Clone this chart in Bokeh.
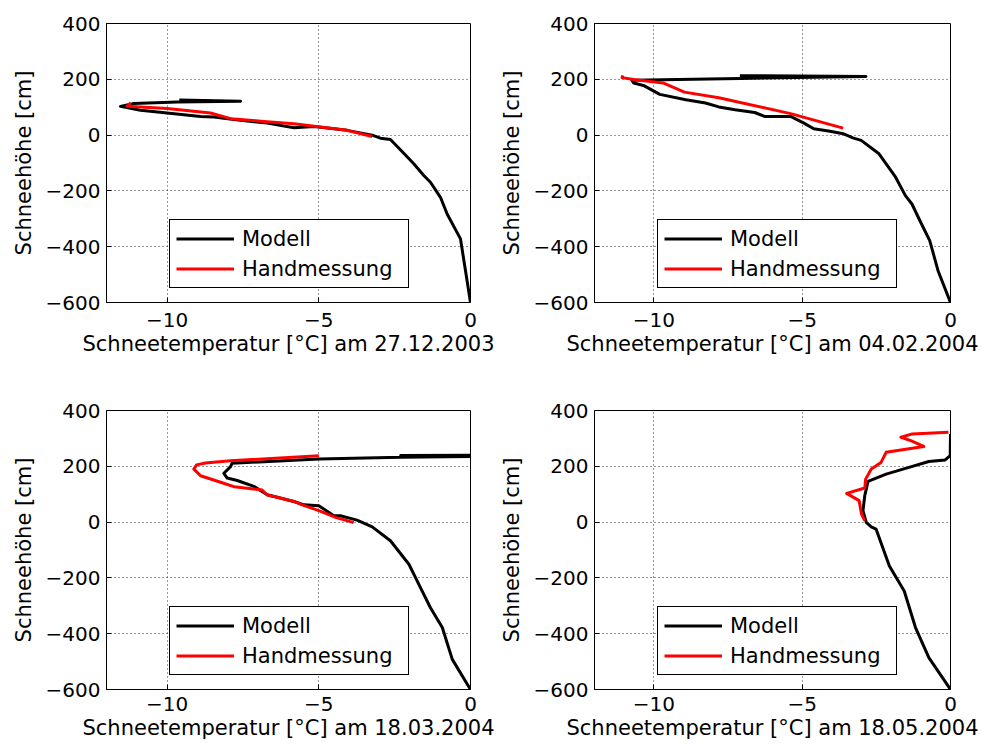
from bokeh.plotting import figure
from bokeh.layouts import column, row
from bokeh.models import Legend, LegendItem, FixedTicker, Range1d
from bokeh.embed import file_html
from bokeh.resources import INLINE

# ---------------- data ----------------
X_TICKS = [-10, -5, 0]
Y_TICKS = [-600, -400, -200, 0, 200, 400]
X_LABELS = {-10: "\u221210", -5: "\u22125", 0: "0"}
Y_LABELS = {-600: "\u2212600", -400: "\u2212400", -200: "\u2212200", 0: "0", 200: "200", 400: "400"}

DATES = ["27.12.2003", "04.02.2004", "18.03.2004", "18.05.2004"]
SERIES_NAMES = ["Modell", "Handmessung"]

# 27.12.2003
T1_modell = [0, -0.33, -0.77, -0.99, -1.32, -1.54, -1.87, -2.2, -2.64, -2.97, -3.24, -4.07, -5.16, -5.82,
             -6.7, -7.8, -8.46, -8.9, -10.0, -10.88, -11.54, -11.1, -9.67, -7.58, -9.6]
H1_modell = [-600, -372, -283, -223, -169, -145, -103, -65, -16, -11, 0, 17, 31, 26,
             43, 56, 65, 67, 79, 89, 103, 113, 119, 121, 126]
T1_hand = [-3.24, -4.07, -5.82, -6.92, -7.91, -8.57, -10.0, -11.32, -11.2]
H1_hand = [-5, 17, 41, 50, 59, 79, 95, 103, 116]

# 04.02.2004
T2_modell = [0, -0.42, -0.70, -1.03, -1.30, -1.52, -1.85, -2.41, -3.01, -3.29, -3.62, -4.06, -4.61, -4.94,
             -5.39, -6.27, -6.6, -7.26, -7.81, -8.26, -8.92, -9.8, -10.35, -10.68, -10.74, -7.1, -2.85, -7.1]
H2_modell = [-600, -486, -378, -307, -247, -217, -151, -67, -19, -10, 5, 14, 23, 43,
             67, 67, 81, 91, 101, 115, 127, 146, 178, 187, 197, 203, 210, 213]
T2_hand = [-3.62, -5.39, -7.81, -8.97, -9.69, -10.68, -11.07, -11.05]
H2_hand = [25, 77, 134, 154, 187, 199, 206, 214]

# 18.03.2004
T3_modell = [0, -0.60, -0.93, -1.32, -1.65, -2.03, -2.64, -3.24, -3.74, -4.29, -4.51, -5.0, -5.49, -5.82,
             -6.7, -7.14, -7.69, -8.02, -8.13, -7.91, -7.86, -5.0, -2.3, 0, -2.3, 0]
H3_modell = [-600, -492, -378, -307, -235, -151, -67, -17, 7, 23, 23, 59, 62, 74,
             98, 128, 149, 158, 175, 199, 211, 226, 232, 235, 239, 240]
T3_hand = [-3.85, -4.45, -5.0, -5.55, -5.82, -6.37, -6.7, -6.87, -7.8, -8.24, -8.9, -9.12, -9.03, -8.74, -7.91, -5.0]
H3_hand = [-2, 17, 41, 62, 74, 89, 97, 115, 127, 143, 166, 190, 205, 212, 220, 238]

# 18.05.2004
T4_modell = [0, -0.73, -1.18, -1.56, -2.06, -2.51, -2.67, -2.84, -2.95, -2.89, -2.78, -2.17, -1.40, -0.73,
             -0.18, -0.01, 0]
H4_modell = [-600, -486, -378, -247, -157, -25, -17, -1, 41, 95, 146, 172, 196, 217,
             223, 238, 316]
T4_hand = [-2.89, -3.0, -3.08, -3.5, -2.89, -2.86, -2.67, -2.34, -2.17, -0.9, -1.34, -1.67, -1.29, -0.07]
H4_hand = [5, 29, 77, 103, 122, 154, 190, 214, 250, 271, 292, 304, 316, 322]

FONT = "DejaVu Sans"
TICK_FS = "20px"
LABEL_FS = "21px"
LEGEND_FS = "21px"


def make(tm, hm, th, hh, date, lb, fw, rb, tb, fh, bb, tick_standoff, label_standoff):
    p = figure(width=lb + fw + rb, height=tb + fh + bb,
               x_range=Range1d(-12, 0), y_range=Range1d(-600, 400),
               output_backend="svg", toolbar_location=None,
               min_border_left=lb, min_border_right=rb, min_border_top=tb, min_border_bottom=bb,
               x_axis_label="Schneetemperatur [\u00b0C] am " + date,
               y_axis_label="Schneeh\u00f6he [cm]")
    p.outline_line_color = "black"
    p.outline_line_alpha = 1
    p.outline_line_width = 1
    p.background_fill_color = "white"
    p.border_fill_color = "white"

    for ax, ticks, labels in ((p.xaxis[0], X_TICKS, X_LABELS), (p.yaxis[0], Y_TICKS, Y_LABELS)):
        ax.ticker = FixedTicker(ticks=ticks)
        ax.major_label_overrides = labels
        ax.major_label_text_font = FONT
        ax.major_label_text_font_size = TICK_FS
        ax.major_label_text_color = "black"
        ax.axis_label_text_font = FONT
        ax.axis_label_text_font_size = LABEL_FS
        ax.axis_label_text_font_style = "normal"
        ax.axis_label_text_color = "black"
        ax.axis_line_color = "black"
        ax.major_tick_line_color = "black"
        ax.major_tick_in = 5
        ax.major_tick_out = 0
        ax.minor_tick_in = 0
        ax.minor_tick_out = 0
    p.xaxis[0].major_label_standoff = tick_standoff
    p.xaxis[0].axis_label_standoff = label_standoff
    p.yaxis[0].major_label_standoff = 6
    p.yaxis[0].axis_label_standoff = 7

    for g in (p.xgrid[0], p.ygrid[0]):
        g.grid_line_color = "black"
        g.grid_line_alpha = 0.8
        g.grid_line_dash = "1 3"
        g.grid_line_width = 1

    r1 = p.line(tm, hm, line_color="black", line_width=3, line_join="round")
    r2 = p.line(th, hh, line_color="#ff0000", line_width=3, line_join="round")

    legend = Legend(items=[LegendItem(label=SERIES_NAMES[0], renderers=[r1]),
                           LegendItem(label=SERIES_NAMES[1], renderers=[r2])],
                    location=(63, 14), margin=0, padding=6, spacing=5,
                    glyph_width=58, glyph_height=25, label_height=25, label_width=160,
                    label_standoff=8, label_text_font=FONT, label_text_font_size=LEGEND_FS,
                    label_text_color="black",
                    border_line_color="black", border_line_width=1, border_line_alpha=1,
                    background_fill_color="white", background_fill_alpha=1)
    p.add_layout(legend)
    return p


# left col: frame x 106..470 ; right col: frame x 588..950
# top row: frame y 23..302 ; bottom row: frame y 410..689
p1 = make(T1_modell, H1_modell, T1_hand, H1_hand, DATES[0], 106, 364, 26, 23, 279, 94, 10, 2)
p2 = make(T2_modell, H2_modell, T2_hand, H2_hand, DATES[1], 92, 362, 28, 23, 279, 94, 10, 2)
p3 = make(T3_modell, H3_modell, T3_hand, H3_hand, DATES[2], 106, 364, 26, 14, 279, 57, 7, 2)
p4 = make(T4_modell, H4_modell, T4_hand, H4_hand, DATES[3], 92, 362, 28, 14, 279, 57, 7, 2)

layout = column(row(p1, p2), row(p3, p4))

with open("out.html", "w") as f:
    f.write(file_html(layout, INLINE))
